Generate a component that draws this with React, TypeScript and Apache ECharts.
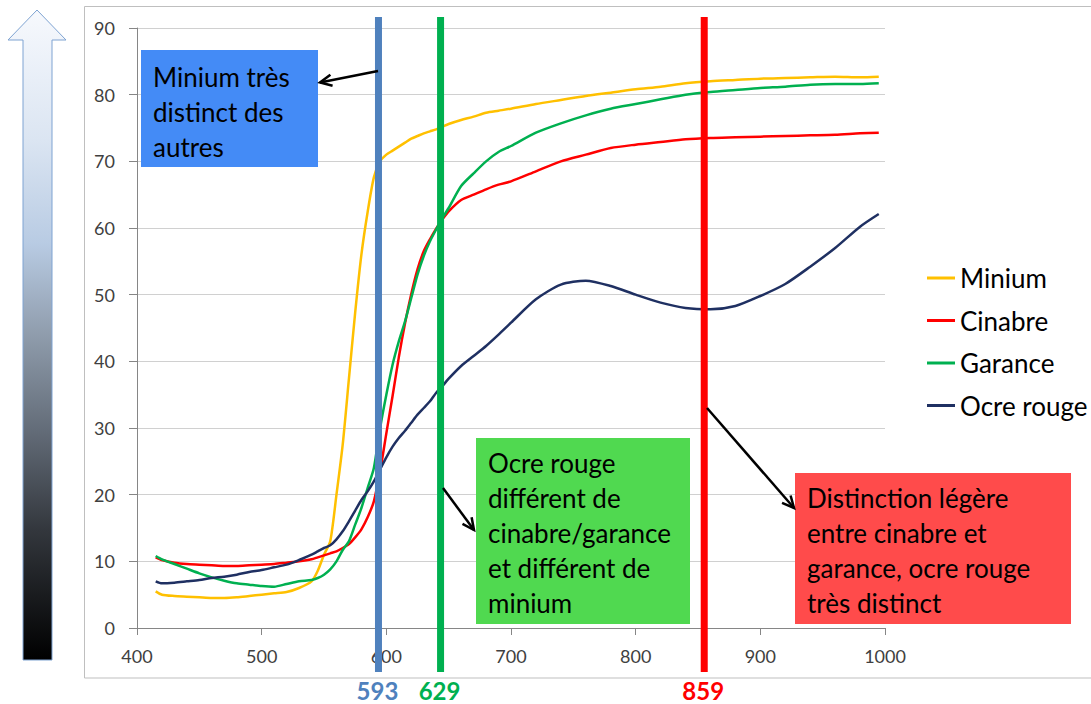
import React, { useEffect, useRef } from "react";
import * as echarts from "echarts";

const wavelengths = [415, 420, 430, 440, 450, 460, 470, 480, 490, 500, 510, 520, 530, 540, 545, 550, 555, 560, 565, 570, 575, 580, 585, 590, 595, 600, 605, 610, 615, 620, 625, 630, 635, 640, 645, 650, 660, 670, 680, 690, 700, 720, 740, 760, 780, 800, 820, 840, 860, 880, 900, 920, 940, 960, 980, 995];

const minium = [5.5, 5.0, 4.8, 4.7, 4.6, 4.5, 4.5, 4.6, 4.8, 5.0, 5.2, 5.4, 6.0, 7.0, 8.6, 11.0, 13.0, 20.0, 27.5, 37.4, 47.3, 56.0, 62.4, 67.6, 70.0, 71.0, 71.6, 72.2, 72.8, 73.4, 73.8, 74.2, 74.5, 74.8, 75.2, 75.6, 76.2, 76.7, 77.3, 77.6, 77.9, 78.6, 79.2, 79.8, 80.3, 80.8, 81.2, 81.7, 82.0, 82.2, 82.4, 82.5, 82.6, 82.7, 82.6, 82.7];

const cinabre = [10.6, 10.2, 9.8, 9.6, 9.5, 9.4, 9.3, 9.3, 9.4, 9.5, 9.6, 9.8, 10.0, 10.3, 10.6, 10.9, 11.2, 11.5, 12.0, 12.6, 13.6, 14.8, 16.6, 19.0, 23.5, 29.2, 34.8, 40.6, 45.7, 50.1, 53.8, 56.5, 58.3, 59.9, 61.3, 62.5, 64.2, 65.0, 65.8, 66.5, 67.0, 68.5, 70.0, 71.0, 72.0, 72.5, 72.9, 73.3, 73.5, 73.6, 73.7, 73.8, 73.9, 74.0, 74.2, 74.3];

const garance = [10.8, 10.3, 9.6, 8.9, 8.2, 7.6, 7.1, 6.7, 6.5, 6.3, 6.2, 6.6, 7.0, 7.2, 7.5, 8.0, 8.8, 10.0, 11.7, 13.0, 15.5, 18.0, 21.0, 24.0, 30.0, 35.0, 39.5, 43.0, 46.0, 49.5, 53.0, 55.8, 58.0, 59.8, 61.5, 63.0, 66.3, 68.2, 70.0, 71.4, 72.3, 74.3, 75.7, 76.9, 77.9, 78.6, 79.3, 80.0, 80.4, 80.7, 81.0, 81.2, 81.5, 81.6, 81.6, 81.7];

const ocreRouge = [7.0, 6.7, 6.8, 7.0, 7.2, 7.5, 7.7, 8.0, 8.4, 8.7, 9.1, 9.5, 10.2, 11.0, 11.5, 12.0, 12.4, 13.3, 14.5, 16.0, 17.6, 19.2, 20.5, 22.0, 23.8, 25.6, 27.2, 28.5, 29.6, 30.8, 32.0, 33.0, 34.0, 35.3, 36.3, 37.4, 39.3, 40.8, 42.3, 44.0, 45.8, 49.3, 51.5, 52.1, 51.3, 50.0, 48.8, 48.0, 47.8, 48.3, 49.8, 51.6, 54.2, 57.0, 60.2, 62.1];

const seriesNames = ["Minium", "Cinabre", "Garance", "Ocre rouge"];
const seriesColors = ["#ffc000", "#ff0000", "#00b050", "#1f3062"];

// vertical markers: position on the wavelength axis and printed label
const markerPositions = [593.7, 643.5, 855];
const markerLabels = ["593", "629", "859"];
const markerColors = ["#4f81bd", "#00b050", "#ff0000"];

const FONT = "Lato";

function arrow(x1: number, y1: number, x2: number, y2: number) {
  const ang = Math.atan2(y2 - y1, x2 - x1);
  const len = 13;
  const spread = 0.45;
  const p1 = [x2 - len * Math.cos(ang - spread), y2 - len * Math.sin(ang - spread)];
  const p2 = [x2 - len * Math.cos(ang + spread), y2 - len * Math.sin(ang + spread)];
  return [
    {
      type: "line",
      z: 120,
      shape: { x1, y1, x2, y2 },
      style: { stroke: "#000", lineWidth: 2.5 },
    },
    {
      type: "polyline",
      z: 120,
      shape: { points: [p1, [x2, y2], p2] },
      style: { stroke: "#000", lineWidth: 2.5, fill: null },
    },
  ];
}

export default function App() {
  const ref = useRef<HTMLDivElement>(null);
  useEffect(() => {
    if (!ref.current) return;
    const chart = echarts.init(ref.current, undefined, { renderer: "svg" });
    const mk = (vals: number[]) => wavelengths.map((w, i) => [w, vals[i]]);
    const allData = [minium, cinabre, garance, ocreRouge];
    chart.setOption({
      animation: false,
      backgroundColor: "#ffffff",
      grid: { left: 137, top: 28, width: 748, height: 600, containLabel: false },
      legend: {
        orient: "vertical",
        left: 922,
        top: 258,
        icon: "rect",
        itemWidth: 28,
        itemHeight: 3,
        itemGap: 12.5,
        data: seriesNames,
        textStyle: { fontFamily: FONT, fontSize: 26, color: "#000", lineHeight: 30 },
      },
      xAxis: {
        type: "value",
        min: 400,
        max: 1000,
        interval: 100,
        axisLine: { show: true, lineStyle: { color: "#868686", width: 1 } },
        axisTick: { show: true, length: 7, lineStyle: { color: "#868686" } },
        splitLine: { show: false },
        axisLabel: {
          fontFamily: FONT,
          fontSize: 18,
          color: "#404040",
          margin: 19,
          formatter: (v: number) => String(v),
        },
      },
      yAxis: {
        type: "value",
        min: 0,
        max: 90,
        interval: 10,
        axisLine: { show: true, lineStyle: { color: "#868686", width: 1 } },
        axisTick: { show: true, length: 8, lineStyle: { color: "#868686" } },
        splitLine: { show: true, lineStyle: { color: "#d0d0d0", width: 1 } },
        axisLabel: { fontFamily: FONT, fontSize: 18, color: "#404040", margin: 22 },
      },
      series: seriesNames.map((name, i) => ({
        name,
        type: "line",
        data: mk(allData[i]),
        showSymbol: false,
        smooth: 0.25,
        color: seriesColors[i],
        lineStyle: { color: seriesColors[i], width: 2.5 },
        z: 2,
      })),
    });

    const graphics: any[] = [];
    // outer frame
    graphics.push({
      type: "rect",
      z: 0,
      shape: { x: 84.5, y: 6.5, width: 1010, height: 671.5 },
      style: { fill: null, stroke: "#bfbfbf", lineWidth: 1 },
    });
    // left gradient arrow
    graphics.push({
      type: "polygon",
      z: 10,
      shape: {
        points: [
          [37, 10],
          [66, 40],
          [52, 40],
          [52, 660],
          [23, 660],
          [23, 40],
          [8, 40],
        ],
      },
      style: {
        stroke: "#7ea3d2",
        lineWidth: 1,
        fill: new echarts.graphic.LinearGradient(0, 0, 0, 1, [
          { offset: 0, color: "#f7f9fd" },
          { offset: 0.2, color: "#dbe5f2" },
          { offset: 0.36, color: "#b8cbe3" },
          { offset: 0.5, color: "#8f9cac" },
          { offset: 0.65, color: "#626b77" },
          { offset: 0.8, color: "#33373d" },
          { offset: 1, color: "#000000" },
        ]),
      },
    });
    // markers
    markerPositions.forEach((v, i) => {
      const px = chart.convertToPixel({ xAxisIndex: 0 }, v) as number;
      graphics.push({
        type: "rect",
        z: 100,
        shape: { x: px - 3.5, y: 17, width: 7, height: 655 },
        style: { fill: markerColors[i] },
      });
      graphics.push({
        type: "text",
        z: 100,
        style: {
          text: markerLabels[i],
          x: px - 1,
          y: 690,
          align: "center",
          verticalAlign: "middle",
          fontFamily: FONT,
          fontWeight: "bold",
          fontSize: 24,
          fill: markerColors[i],
        },
      });
    });
    // annotation boxes
    const boxes = [
      { x: 141, y: 50, w: 177, h: 117, fill: "#448bf6", tx: 153, ty: 59, text: "Minium très\ndistinct des\nautres" },
      { x: 476, y: 438, w: 214, h: 186, fill: "#50d950", tx: 488, ty: 445, text: "Ocre rouge\ndifférent de\ncinabre/garance\net différent de\nminium" },
      { x: 795, y: 473, w: 276, h: 151, fill: "#ff4b4b", tx: 807, ty: 480, text: "Distinction légère\nentre cinabre et\ngarance, ocre rouge\ntrès distinct" },
    ];
    boxes.forEach((b) => {
      graphics.push({
        type: "rect",
        z: 110,
        shape: { x: b.x, y: b.y, width: b.w, height: b.h },
        style: { fill: b.fill },
      });
      graphics.push({
        type: "text",
        z: 111,
        style: {
          text: b.text,
          x: b.tx,
          y: b.ty,
          align: "left",
          verticalAlign: "top",
          fontFamily: FONT,
          fontSize: 26,
          lineHeight: 35,
          fill: "#000",
        },
      });
    });
    graphics.push(...arrow(378, 71, 320, 82.5));
    graphics.push(...arrow(443, 488, 474, 530));
    graphics.push(...arrow(707, 408, 794, 508));

    chart.setOption({ graphic: graphics });

    return () => chart.dispose();
  }, []);
  return (
    <div
      ref={ref}
      style={{ position: "absolute", left: 0, top: 0, width: 1091, height: 704 }}
    />
  );
}
